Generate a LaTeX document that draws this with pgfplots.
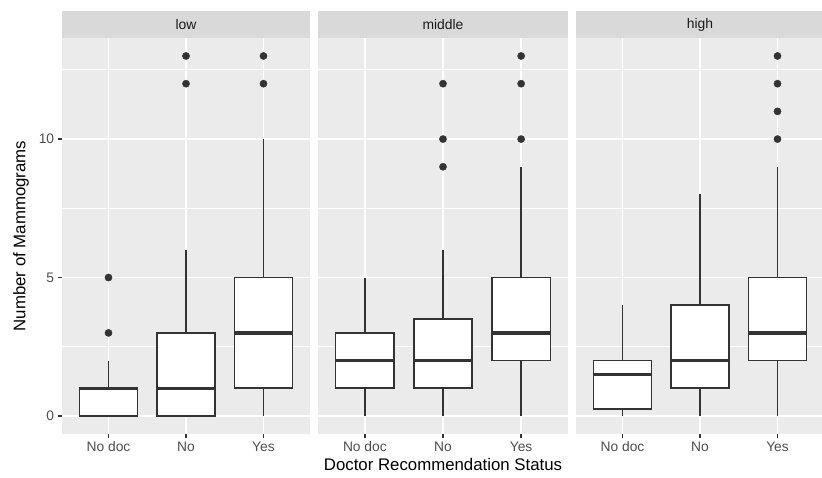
\documentclass[border=0pt]{standalone}
\usepackage{fontspec}
\setmainfont{Liberation Sans}
\usepackage{pgfplots}
\pgfplotsset{compat=1.18}
\usepgfplotslibrary{statistics}
\definecolor{panelbg}{HTML}{EBEBEB}
\definecolor{stripbg}{HTML}{D9D9D9}
\definecolor{gtwenty}{HTML}{333333}
\definecolor{gthirty}{HTML}{4D4D4D}
\definecolor{gten}{HTML}{1A1A1A}
\pgfplotsset{
  panel/.style={
    scale only axis, width=248pt, height=396pt, anchor=south west,
    xmin=0.4, xmax=3.6, ymin=-0.65, ymax=13.65,
    xtick={1,2,3}, xticklabels={No doc,No,Yes},
    ytick={0,5,10}, minor ytick={2.5,7.5,12.5},
    grid=both,
    major grid style={white, line width=1.7pt},
    minor grid style={white, line width=0.85pt},
    axis background/.style={fill=panelbg},
    axis line style={draw=none},
    tick align=outside, xtick pos=bottom, ytick pos=left,
    major tick length=4.35pt, minor tick length=0pt,
    tick style={gtwenty, line width=1.7pt},
    tick label style={font=\fontsize{13.8}{16}\selectfont, color=gthirty},
    /pgf/number format/assume math mode=true,
    boxplot/draw direction=y,
    boxplot/every median/.style={line width=3.4pt},
  },
  bxs/.style={draw=gtwenty, fill=white, line width=1.7pt},
  outl/.style={only marks, mark=*, mark size=3.6pt, color=gtwenty},
}
\begin{document}
\begin{tikzpicture}
\useasboundingbox (0,0) rectangle (822pt,478pt);
% ---------- low ----------
\begin{axis}[panel, at={(62pt,44pt)}]
\addplot[bxs, boxplot prepared={draw position=1, lower whisker=0, lower quartile=0, median=1, upper quartile=1, upper whisker=2, box extend=0.75, whisker extend=0}] coordinates {};
\addplot[bxs, boxplot prepared={draw position=2, lower whisker=0, lower quartile=0, median=1, upper quartile=3, upper whisker=6, box extend=0.75, whisker extend=0}] coordinates {};
\addplot[bxs, boxplot prepared={draw position=3, lower whisker=0, lower quartile=1, median=3, upper quartile=5, upper whisker=10, box extend=0.75, whisker extend=0}] coordinates {};
\addplot[outl] coordinates {(1,3) (1,5) (2,12) (2,13) (3,12) (3,13)};
\end{axis}
% ---------- middle ----------
\begin{axis}[panel, width=250pt, at={(318pt,44pt)}, yticklabels={}, ytick style={draw=none}]
\addplot[bxs, boxplot prepared={draw position=1, lower whisker=0, lower quartile=1, median=2, upper quartile=3, upper whisker=5, box extend=0.75, whisker extend=0}] coordinates {};
\addplot[bxs, boxplot prepared={draw position=2, lower whisker=0, lower quartile=1, median=2, upper quartile=3.5, upper whisker=6, box extend=0.75, whisker extend=0}] coordinates {};
\addplot[bxs, boxplot prepared={draw position=3, lower whisker=0, lower quartile=2, median=3, upper quartile=5, upper whisker=9, box extend=0.75, whisker extend=0}] coordinates {};
\addplot[outl] coordinates {(2,9) (2,10) (2,12) (3,10) (3,12) (3,13)};
\end{axis}
% ---------- high ----------
\begin{axis}[panel, at={(576pt,44pt)}, yticklabels={}, ytick style={draw=none}]
\addplot[bxs, boxplot prepared={draw position=1, lower whisker=0, lower quartile=0.25, median=1.5, upper quartile=2, upper whisker=4, box extend=0.75, whisker extend=0}] coordinates {};
\addplot[bxs, boxplot prepared={draw position=2, lower whisker=0, lower quartile=1, median=2, upper quartile=4, upper whisker=8, box extend=0.75, whisker extend=0}] coordinates {};
\addplot[bxs, boxplot prepared={draw position=3, lower whisker=0, lower quartile=2, median=3, upper quartile=5, upper whisker=9, box extend=0.75, whisker extend=0}] coordinates {};
\addplot[outl] coordinates {(3,10) (3,11) (3,12) (3,13)};
\end{axis}
% ---------- strips ----------
\fill[stripbg] (62pt,440pt) rectangle (310pt,467pt);
\fill[stripbg] (318pt,440pt) rectangle (568pt,467pt);
\fill[stripbg] (576pt,440pt) rectangle (824pt,467pt);
\node[font=\fontsize{13.9}{16}\selectfont, text=gten] at (186pt,453.5pt) {low};
\node[font=\fontsize{13.9}{16}\selectfont, text=gten] at (443pt,453.5pt) {middle};
\node[font=\fontsize{13.9}{16}\selectfont, text=gten] at (700pt,453.5pt) {high};
% ---------- axis titles ----------
\node[anchor=base, font=\fontsize{16.8}{20}\selectfont] at (443pt,7pt) {Doctor Recommendation Status};
\node[rotate=90, font=\fontsize{16.8}{20}\selectfont] at (21pt,242pt) {Number of Mammograms};
\end{tikzpicture}
\end{document}
